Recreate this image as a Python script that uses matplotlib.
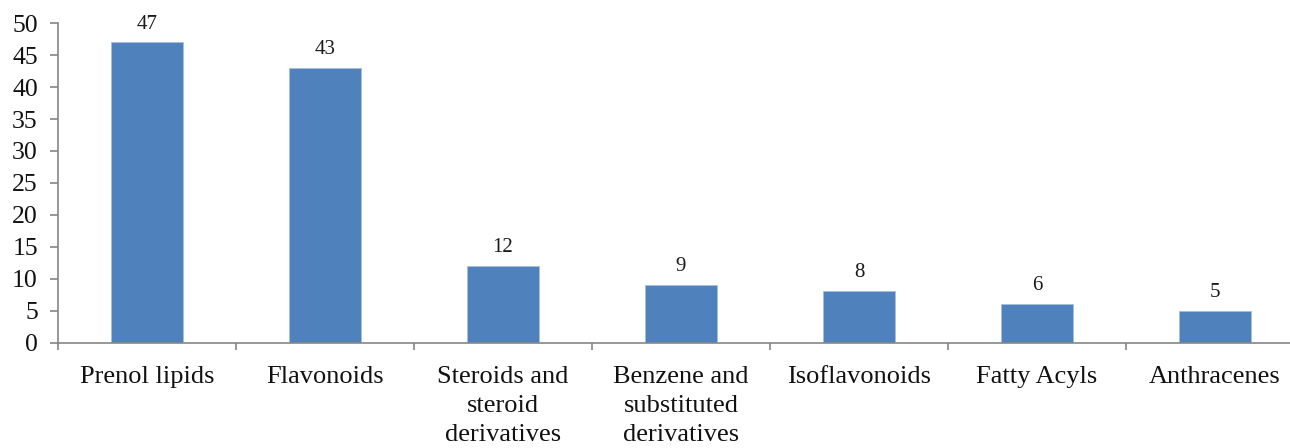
import matplotlib
matplotlib.use("Agg")
import matplotlib.pyplot as plt
import numpy as np

categories = ["Prenol lipids", "Flavonoids", "Steroids and\nsteroid\nderivatives",
              "Benzene and\nsubstituted\nderivatives", "Isoflavonoids", "Fatty Acyls",
              "Anthracenes"]
counts = [47, 43, 12, 9, 8, 6, 5]
y_ticks = list(range(0, 51, 5))

plt.rcParams['font.family'] = ['Liberation Serif', 'DejaVu Serif']

W, H = 1290, 448
fig = plt.figure(figsize=(W / 100, H / 100), dpi=100)
left, right = 58, 1304
bottom, top = 342.5, 23.3
ax = fig.add_axes([left / W, 1 - bottom / H, (right - left) / W, (bottom - top) / H])

x = np.arange(len(categories))
bars = ax.bar(x, counts, width=0.4, color="#4F81BD", edgecolor="#A7BFDE", linewidth=0.6, zorder=2)
for xi, v in zip(x, counts):
    ax.text(xi, v + 1.4, str(v), ha="center", va="bottom", fontsize=15, color="#1a1a1a")

ax.set_xlim(-0.5, len(categories) - 0.5)
ax.set_ylim(0, 50)
ax.set_yticks(y_ticks)
ax.set_yticklabels([str(t) for t in y_ticks], fontsize=18.5, color="#111111")
ax.set_xticks(x)
ax.set_xticklabels(categories, fontsize=19, linespacing=1.4, va="top", color="#111111")
ax.set_xticks(np.arange(len(categories) + 1) - 0.5, minor=True)
ax.tick_params(axis="x", which="major", length=0, pad=17)
ax.tick_params(axis="x", which="minor", length=5, color="#868686", width=1.2, direction="out")
ax.tick_params(axis="y", length=6, color="#868686", width=1.2, pad=8.5)

for side in ("top", "right"):
    ax.spines[side].set_visible(False)
for side in ("left", "bottom"):
    ax.spines[side].set_color("#868686")
    ax.spines[side].set_linewidth(1.2)

fig.savefig("out.png", dpi=100)
